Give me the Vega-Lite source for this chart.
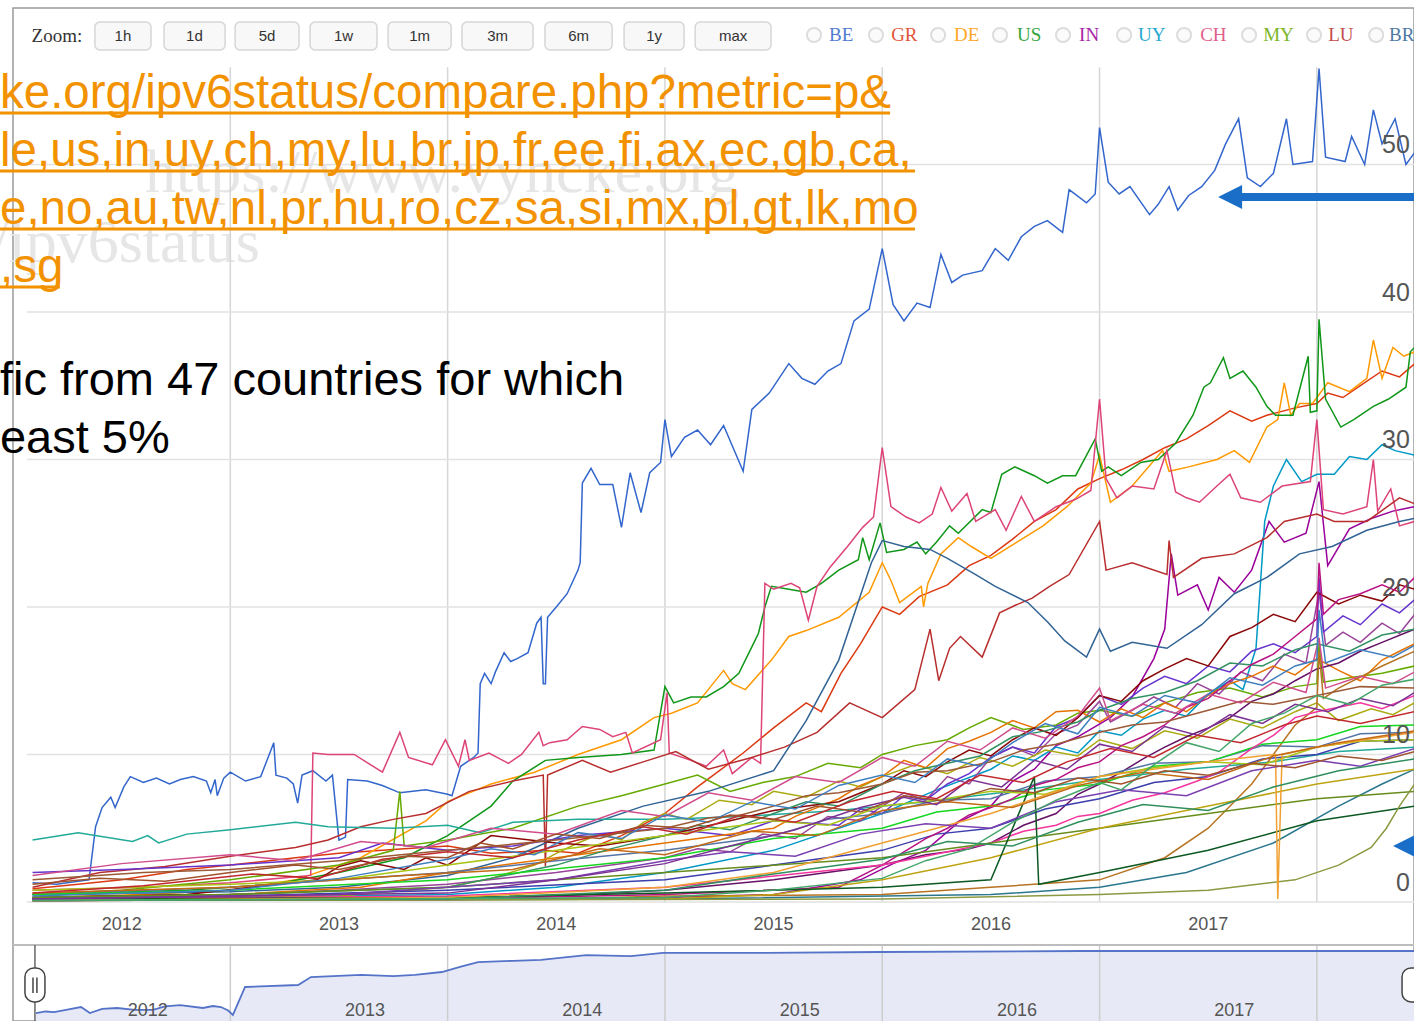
{
"$schema":"https://vega.github.io/schema/vega-lite/v6.json",
"width":1401,"height":1013,
"autosize":{"type":"none"},
"padding":{"left":13,"top":8,"right":0,"bottom":0},
"background":"#ffffff",
"config":{"view":{"stroke":"#9a9a9a","strokeWidth":1.5}},
"resolve":{"scale":{"y":"independent"}},
"layer":[
{"layer":[
 {"data":{"values":[{"s":"https://www.vyncke.org","t":2012.607,"v":48.14},{"s":"/ipv6status","t":2011.90,"v":43.39}]},
  "mark":{"type":"text","align":"left","baseline":"alphabetic","font":"Liberation Serif","fontSize":62,"color":"#e6e6e6"},
  "encoding":{"x":{"field":"t","type":"quantitative","scale":{"domain":[2012,2018.447],"nice":false,"zero":false},"axis":null},"y":{"field":"v","type":"quantitative","scale":{"domain":[-8.07,60.61],"nice":false,"zero":false},"axis":null},"text":{"field":"s"}}},
 {"data":{"values":[{"t":2013,"v":0,"v2":56.6},{"t":2014,"v":0,"v2":56.6},{"t":2015,"v":0,"v2":56.6},{"t":2016,"v":0,"v2":56.6},{"t":2017,"v":0,"v2":56.6},{"t":2018,"v":0,"v2":56.6}]},
  "mark":{"type":"rule","color":"#d6d6d6","strokeWidth":1.5},
  "encoding":{"x":{"field":"t","type":"quantitative","scale":{"domain":[2012,2018.447],"nice":false,"zero":false},"axis":null},"y":{"field":"v","type":"quantitative","scale":{"domain":[-8.07,60.61],"nice":false,"zero":false},"axis":null},"y2":{"field":"v2"}}},
 {"data":{"values":[{"t":2012.064,"t2":2018.5,"v":0},{"t":2012.064,"t2":2018.5,"v":10},{"t":2012.064,"t2":2018.5,"v":20},{"t":2012.064,"t2":2018.5,"v":30},{"t":2012.064,"t2":2018.5,"v":40},{"t":2012.064,"t2":2018.5,"v":50}]},
  "mark":{"type":"rule","color":"#e2e2e2","strokeWidth":1.5},
  "encoding":{"x":{"field":"t","type":"quantitative","scale":{"domain":[2012,2018.447],"nice":false,"zero":false},"axis":null},"x2":{"field":"t2"},"y":{"field":"v","type":"quantitative","scale":{"domain":[-8.07,60.61],"nice":false,"zero":false},"axis":null}}},
 {"data":{"values":[
{"c":"be","t":2012.09,"v":1.3},{"c":"be","t":2012.2,"v":1.2},{"c":"be","t":2012.3,"v":1.4},{"c":"be","t":2012.35,"v":1.5},{"c":"be","t":2012.38,"v":5.1},{"c":"be","t":2012.41,"v":6.4},{"c":"be","t":2012.45,"v":7.1},{"c":"be","t":2012.47,"v":6.4},{"c":"be","t":2012.51,"v":7.8},{"c":"be","t":2012.54,"v":8.5},{"c":"be","t":2012.6,"v":8.1},{"c":"be","t":2012.66,"v":8.4},{"c":"be","t":2012.72,"v":8.0},{"c":"be","t":2012.77,"v":8.3},{"c":"be","t":2012.83,"v":8.5},{"c":"be","t":2012.89,"v":8.2},{"c":"be","t":2012.91,"v":7.4},{"c":"be","t":2012.93,"v":8.3},{"c":"be","t":2012.94,"v":7.2},{"c":"be","t":2012.97,"v":8.4},{"c":"be","t":2013.0,"v":8.8},{"c":"be","t":2013.07,"v":8.2},{"c":"be","t":2013.14,"v":8.5},{"c":"be","t":2013.2,"v":10.8},{"c":"be","t":2013.21,"v":8.6},{"c":"be","t":2013.26,"v":8.4},{"c":"be","t":2013.29,"v":8.0},{"c":"be","t":2013.31,"v":6.7},{"c":"be","t":2013.33,"v":8.6},{"c":"be","t":2013.38,"v":8.9},{"c":"be","t":2013.44,"v":8.2},{"c":"be","t":2013.47,"v":8.6},{"c":"be","t":2013.5,"v":4.2},{"c":"be","t":2013.53,"v":4.4},{"c":"be","t":2013.54,"v":8.3},{"c":"be","t":2013.63,"v":8.2},{"c":"be","t":2013.7,"v":7.9},{"c":"be","t":2013.78,"v":7.4},{"c":"be","t":2013.9,"v":7.6},{"c":"be","t":2014.0,"v":7.3},{"c":"be","t":2014.02,"v":7.2},{"c":"be","t":2014.06,"v":9.2},{"c":"be","t":2014.12,"v":9.8},{"c":"be","t":2014.14,"v":10.1},{"c":"be","t":2014.15,"v":14.8},{"c":"be","t":2014.17,"v":15.5},{"c":"be","t":2014.2,"v":14.8},{"c":"be","t":2014.22,"v":15.6},{"c":"be","t":2014.26,"v":16.9},{"c":"be","t":2014.29,"v":16.3},{"c":"be","t":2014.32,"v":16.5},{"c":"be","t":2014.37,"v":16.9},{"c":"be","t":2014.41,"v":18.9},{"c":"be","t":2014.43,"v":19.3},{"c":"be","t":2014.44,"v":14.8},{"c":"be","t":2014.45,"v":14.8},{"c":"be","t":2014.46,"v":19.3},{"c":"be","t":2014.5,"v":20.0},{"c":"be","t":2014.55,"v":20.9},{"c":"be","t":2014.6,"v":22.5},{"c":"be","t":2014.61,"v":23.0},{"c":"be","t":2014.62,"v":28.4},{"c":"be","t":2014.66,"v":29.4},{"c":"be","t":2014.7,"v":28.3},{"c":"be","t":2014.76,"v":28.3},{"c":"be","t":2014.8,"v":25.4},{"c":"be","t":2014.84,"v":29.1},{"c":"be","t":2014.89,"v":26.4},{"c":"be","t":2014.93,"v":29.1},{"c":"be","t":2014.98,"v":29.8},{"c":"be","t":2015.0,"v":32.7},{"c":"be","t":2015.03,"v":30.2},{"c":"be","t":2015.09,"v":31.5},{"c":"be","t":2015.15,"v":32.0},{"c":"be","t":2015.21,"v":31.0},{"c":"be","t":2015.27,"v":32.3},{"c":"be","t":2015.36,"v":29.2},{"c":"be","t":2015.4,"v":33.4},{"c":"be","t":2015.48,"v":34.5},{"c":"be","t":2015.57,"v":36.5},{"c":"be","t":2015.63,"v":35.5},{"c":"be","t":2015.69,"v":35.1},{"c":"be","t":2015.75,"v":36.0},{"c":"be","t":2015.81,"v":36.5},{"c":"be","t":2015.87,"v":39.4},{"c":"be","t":2015.94,"v":40.2},{"c":"be","t":2016.0,"v":44.3},{"c":"be","t":2016.05,"v":40.5},{"c":"be","t":2016.1,"v":39.4},{"c":"be","t":2016.16,"v":40.6},{"c":"be","t":2016.22,"v":40.3},{"c":"be","t":2016.27,"v":43.9},{"c":"be","t":2016.32,"v":42.0},{"c":"be","t":2016.37,"v":42.5},{"c":"be","t":2016.46,"v":42.8},{"c":"be","t":2016.52,"v":44.3},{"c":"be","t":2016.58,"v":43.5},{"c":"be","t":2016.64,"v":45.1},{"c":"be","t":2016.7,"v":45.8},{"c":"be","t":2016.76,"v":46.2},{"c":"be","t":2016.83,"v":45.4},{"c":"be","t":2016.86,"v":48.3},{"c":"be","t":2016.94,"v":47.4},{"c":"be","t":2016.98,"v":48.0},{"c":"be","t":2017.0,"v":52.5},{"c":"be","t":2017.04,"v":48.8},{"c":"be","t":2017.09,"v":48.0},{"c":"be","t":2017.14,"v":48.5},{"c":"be","t":2017.23,"v":46.6},{"c":"be","t":2017.27,"v":47.3},{"c":"be","t":2017.32,"v":48.5},{"c":"be","t":2017.36,"v":46.9},{"c":"be","t":2017.41,"v":47.9},{"c":"be","t":2017.47,"v":48.5},{"c":"be","t":2017.53,"v":49.6},{"c":"be","t":2017.58,"v":51.4},{"c":"be","t":2017.64,"v":53.1},{"c":"be","t":2017.68,"v":49.1},{"c":"be","t":2017.74,"v":48.5},{"c":"be","t":2017.8,"v":49.4},{"c":"be","t":2017.86,"v":53.1},{"c":"be","t":2017.89,"v":50.0},{"c":"be","t":2017.98,"v":50.2},{"c":"be","t":2018.01,"v":56.5},{"c":"be","t":2018.04,"v":50.5},{"c":"be","t":2018.13,"v":50.2},{"c":"be","t":2018.16,"v":51.9},{"c":"be","t":2018.22,"v":50.0},{"c":"be","t":2018.26,"v":53.7},{"c":"be","t":2018.3,"v":51.4},{"c":"be","t":2018.36,"v":53.1},{"c":"be","t":2018.41,"v":50.0},{"c":"be","t":2018.45,"v":50.8},
{"c":"gr","t":2012.09,"v":0.9},{"c":"gr","t":2012.3,"v":1.2},{"c":"gr","t":2012.5,"v":1.5},{"c":"gr","t":2012.8,"v":2.2},{"c":"gr","t":2013.0,"v":2.5},{"c":"gr","t":2013.3,"v":3.0},{"c":"gr","t":2013.5,"v":3.3},{"c":"gr","t":2013.8,"v":3.6},{"c":"gr","t":2014.0,"v":3.8},{"c":"gr","t":2014.2,"v":3.3},{"c":"gr","t":2014.45,"v":3.5},{"c":"gr","t":2014.6,"v":3.3},{"c":"gr","t":2014.8,"v":4.5},{"c":"gr","t":2015.0,"v":6.0},{"c":"gr","t":2015.15,"v":7.8},{"c":"gr","t":2015.36,"v":10.1},{"c":"gr","t":2015.5,"v":11.8},{"c":"gr","t":2015.65,"v":13.5},{"c":"gr","t":2015.72,"v":12.9},{"c":"gr","t":2015.81,"v":15.5},{"c":"gr","t":2015.9,"v":17.5},{"c":"gr","t":2016.0,"v":20.0},{"c":"gr","t":2016.08,"v":19.5},{"c":"gr","t":2016.17,"v":20.7},{"c":"gr","t":2016.3,"v":21.5},{"c":"gr","t":2016.4,"v":22.8},{"c":"gr","t":2016.5,"v":23.5},{"c":"gr","t":2016.6,"v":24.6},{"c":"gr","t":2016.7,"v":25.8},{"c":"gr","t":2016.8,"v":26.6},{"c":"gr","t":2016.9,"v":28.0},{"c":"gr","t":2017.0,"v":28.7},{"c":"gr","t":2017.1,"v":29.3},{"c":"gr","t":2017.2,"v":30.0},{"c":"gr","t":2017.3,"v":30.8},{"c":"gr","t":2017.4,"v":31.4},{"c":"gr","t":2017.5,"v":32.3},{"c":"gr","t":2017.6,"v":33.3},{"c":"gr","t":2017.7,"v":32.6},{"c":"gr","t":2017.77,"v":33.0},{"c":"gr","t":2017.9,"v":33.5},{"c":"gr","t":2018.0,"v":33.8},{"c":"gr","t":2018.05,"v":34.5},{"c":"gr","t":2018.12,"v":34.2},{"c":"gr","t":2018.2,"v":35.0},{"c":"gr","t":2018.3,"v":36.0},{"c":"gr","t":2018.38,"v":35.6},{"c":"gr","t":2018.45,"v":36.5},
{"c":"de","t":2012.09,"v":0.3},{"c":"de","t":2012.6,"v":0.5},{"c":"de","t":2013.0,"v":0.8},{"c":"de","t":2013.3,"v":1.5},{"c":"de","t":2013.6,"v":3.0},{"c":"de","t":2013.9,"v":5.5},{"c":"de","t":2014.0,"v":6.8},{"c":"de","t":2014.2,"v":8.0},{"c":"de","t":2014.4,"v":8.8},{"c":"de","t":2014.6,"v":10.0},{"c":"de","t":2014.8,"v":11.0},{"c":"de","t":2014.95,"v":12.5},{"c":"de","t":2015.03,"v":12.8},{"c":"de","t":2015.15,"v":13.5},{"c":"de","t":2015.27,"v":15.7},{"c":"de","t":2015.31,"v":14.8},{"c":"de","t":2015.37,"v":14.4},{"c":"de","t":2015.49,"v":16.4},{"c":"de","t":2015.57,"v":18.0},{"c":"de","t":2015.65,"v":18.4},{"c":"de","t":2015.8,"v":19.3},{"c":"de","t":2015.94,"v":21.0},{"c":"de","t":2016.0,"v":23.0},{"c":"de","t":2016.04,"v":21.8},{"c":"de","t":2016.08,"v":20.3},{"c":"de","t":2016.18,"v":21.4},{"c":"de","t":2016.19,"v":20.0},{"c":"de","t":2016.21,"v":21.6},{"c":"de","t":2016.27,"v":23.6},{"c":"de","t":2016.35,"v":24.7},{"c":"de","t":2016.41,"v":24.1},{"c":"de","t":2016.5,"v":23.3},{"c":"de","t":2016.62,"v":24.4},{"c":"de","t":2016.74,"v":25.5},{"c":"de","t":2016.85,"v":26.8},{"c":"de","t":2016.96,"v":28.4},{"c":"de","t":2017.0,"v":30.3},{"c":"de","t":2017.05,"v":27.1},{"c":"de","t":2017.15,"v":28.2},{"c":"de","t":2017.29,"v":30.6},{"c":"de","t":2017.32,"v":29.2},{"c":"de","t":2017.41,"v":29.5},{"c":"de","t":2017.54,"v":30.0},{"c":"de","t":2017.62,"v":30.6},{"c":"de","t":2017.69,"v":29.8},{"c":"de","t":2017.77,"v":32.2},{"c":"de","t":2017.82,"v":32.7},{"c":"de","t":2017.85,"v":35.2},{"c":"de","t":2017.88,"v":33.0},{"c":"de","t":2017.92,"v":33.8},{"c":"de","t":2017.98,"v":33.8},{"c":"de","t":2018.05,"v":35.2},{"c":"de","t":2018.15,"v":34.6},{"c":"de","t":2018.23,"v":35.5},{"c":"de","t":2018.26,"v":38.1},{"c":"de","t":2018.3,"v":35.5},{"c":"de","t":2018.35,"v":37.6},{"c":"de","t":2018.4,"v":37.0},{"c":"de","t":2018.45,"v":37.3},
{"c":"us","t":2012.09,"v":0.5},{"c":"us","t":2012.8,"v":0.8},{"c":"us","t":2013.2,"v":1.2},{"c":"us","t":2013.5,"v":2.0},{"c":"us","t":2013.8,"v":3.0},{"c":"us","t":2014.0,"v":4.5},{"c":"us","t":2014.2,"v":6.5},{"c":"us","t":2014.3,"v":8.2},{"c":"us","t":2014.45,"v":9.6},{"c":"us","t":2014.6,"v":9.8},{"c":"us","t":2014.8,"v":10.0},{"c":"us","t":2014.95,"v":10.3},{"c":"us","t":2015.0,"v":14.6},{"c":"us","t":2015.04,"v":13.5},{"c":"us","t":2015.12,"v":13.9},{"c":"us","t":2015.19,"v":13.9},{"c":"us","t":2015.27,"v":14.6},{"c":"us","t":2015.34,"v":15.5},{"c":"us","t":2015.4,"v":17.3},{"c":"us","t":2015.43,"v":18.2},{"c":"us","t":2015.46,"v":20.0},{"c":"us","t":2015.49,"v":21.4},{"c":"us","t":2015.57,"v":21.2},{"c":"us","t":2015.65,"v":21.0},{"c":"us","t":2015.72,"v":21.6},{"c":"us","t":2015.8,"v":22.5},{"c":"us","t":2015.89,"v":23.2},{"c":"us","t":2015.91,"v":24.7},{"c":"us","t":2015.94,"v":23.2},{"c":"us","t":2015.99,"v":25.7},{"c":"us","t":2016.02,"v":23.7},{"c":"us","t":2016.1,"v":23.9},{"c":"us","t":2016.16,"v":24.4},{"c":"us","t":2016.2,"v":23.6},{"c":"us","t":2016.25,"v":24.4},{"c":"us","t":2016.31,"v":25.5},{"c":"us","t":2016.35,"v":25.0},{"c":"us","t":2016.46,"v":26.6},{"c":"us","t":2016.5,"v":26.4},{"c":"us","t":2016.55,"v":29.0},{"c":"us","t":2016.61,"v":29.5},{"c":"us","t":2016.7,"v":28.9},{"c":"us","t":2016.76,"v":28.4},{"c":"us","t":2016.83,"v":28.9},{"c":"us","t":2016.89,"v":28.9},{"c":"us","t":2016.98,"v":31.4},{"c":"us","t":2017.01,"v":29.2},{"c":"us","t":2017.04,"v":29.5},{"c":"us","t":2017.1,"v":28.9},{"c":"us","t":2017.19,"v":29.8},{"c":"us","t":2017.27,"v":30.0},{"c":"us","t":2017.35,"v":31.1},{"c":"us","t":2017.43,"v":33.0},{"c":"us","t":2017.48,"v":34.9},{"c":"us","t":2017.51,"v":35.2},{"c":"us","t":2017.57,"v":36.9},{"c":"us","t":2017.6,"v":35.5},{"c":"us","t":2017.66,"v":36.0},{"c":"us","t":2017.72,"v":34.9},{"c":"us","t":2017.77,"v":33.6},{"c":"us","t":2017.81,"v":33.0},{"c":"us","t":2017.89,"v":33.0},{"c":"us","t":2017.96,"v":37.0},{"c":"us","t":2017.97,"v":33.2},{"c":"us","t":2018.0,"v":33.3},{"c":"us","t":2018.01,"v":39.5},{"c":"us","t":2018.04,"v":34.1},{"c":"us","t":2018.11,"v":32.2},{"c":"us","t":2018.17,"v":32.7},{"c":"us","t":2018.26,"v":33.6},{"c":"us","t":2018.33,"v":34.1},{"c":"us","t":2018.41,"v":34.9},{"c":"us","t":2018.43,"v":37.3},{"c":"us","t":2018.45,"v":37.6},
{"c":"in","t":2012.09,"v":0.1},{"c":"in","t":2014.0,"v":0.15},{"c":"in","t":2015.0,"v":0.3},{"c":"in","t":2015.5,"v":0.5},{"c":"in","t":2015.9,"v":1.5},{"c":"in","t":2016.05,"v":2.6},{"c":"in","t":2016.2,"v":3.5},{"c":"in","t":2016.35,"v":5.4},{"c":"in","t":2016.5,"v":6.5},{"c":"in","t":2016.6,"v":8.2},{"c":"in","t":2016.7,"v":9.0},{"c":"in","t":2016.8,"v":10.6},{"c":"in","t":2016.9,"v":11.2},{"c":"in","t":2017.05,"v":12.5},{"c":"in","t":2017.15,"v":13.9},{"c":"in","t":2017.25,"v":16.5},{"c":"in","t":2017.3,"v":18.5},{"c":"in","t":2017.33,"v":23.6},{"c":"in","t":2017.36,"v":20.8},{"c":"in","t":2017.45,"v":21.5},{"c":"in","t":2017.5,"v":19.8},{"c":"in","t":2017.55,"v":22.0},{"c":"in","t":2017.62,"v":21.0},{"c":"in","t":2017.7,"v":22.5},{"c":"in","t":2017.78,"v":25.8},{"c":"in","t":2017.85,"v":24.4},{"c":"in","t":2017.95,"v":25.0},{"c":"in","t":2018.01,"v":28.5},{"c":"in","t":2018.05,"v":22.8},{"c":"in","t":2018.15,"v":25.3},{"c":"in","t":2018.25,"v":26.0},{"c":"in","t":2018.35,"v":26.5},{"c":"in","t":2018.45,"v":26.8},
{"c":"uy","t":2012.09,"v":0.2},{"c":"uy","t":2013.0,"v":0.3},{"c":"uy","t":2014.0,"v":0.5},{"c":"uy","t":2014.5,"v":1.0},{"c":"uy","t":2015.0,"v":2.0},{"c":"uy","t":2015.5,"v":3.5},{"c":"uy","t":2016.0,"v":6.0},{"c":"uy","t":2016.25,"v":7.6},{"c":"uy","t":2016.5,"v":9.0},{"c":"uy","t":2016.6,"v":9.9},{"c":"uy","t":2016.7,"v":9.6},{"c":"uy","t":2016.8,"v":10.5},{"c":"uy","t":2016.9,"v":10.1},{"c":"uy","t":2017.0,"v":11.6},{"c":"uy","t":2017.1,"v":11.3},{"c":"uy","t":2017.2,"v":12.4},{"c":"uy","t":2017.3,"v":13.0},{"c":"uy","t":2017.4,"v":12.6},{"c":"uy","t":2017.5,"v":14.1},{"c":"uy","t":2017.6,"v":15.0},{"c":"uy","t":2017.66,"v":14.4},{"c":"uy","t":2017.72,"v":17.2},{"c":"uy","t":2017.76,"v":25.8},{"c":"uy","t":2017.8,"v":28.2},{"c":"uy","t":2017.86,"v":30.0},{"c":"uy","t":2017.93,"v":28.5},{"c":"uy","t":2018.0,"v":29.0},{"c":"uy","t":2018.08,"v":29.0},{"c":"uy","t":2018.15,"v":30.2},{"c":"uy","t":2018.23,"v":30.0},{"c":"uy","t":2018.3,"v":31.0},{"c":"uy","t":2018.36,"v":30.6},{"c":"uy","t":2018.45,"v":30.3},
{"c":"ch","t":2012.09,"v":0.8},{"c":"ch","t":2012.6,"v":1.0},{"c":"ch","t":2013.0,"v":1.3},{"c":"ch","t":2013.37,"v":1.8},{"c":"ch","t":2013.38,"v":10.1},{"c":"ch","t":2013.45,"v":10.0},{"c":"ch","t":2013.57,"v":10.0},{"c":"ch","t":2013.7,"v":8.8},{"c":"ch","t":2013.78,"v":11.5},{"c":"ch","t":2013.82,"v":9.8},{"c":"ch","t":2013.93,"v":9.3},{"c":"ch","t":2013.99,"v":11.0},{"c":"ch","t":2014.05,"v":9.2},{"c":"ch","t":2014.08,"v":11.0},{"c":"ch","t":2014.1,"v":9.6},{"c":"ch","t":2014.19,"v":10.1},{"c":"ch","t":2014.28,"v":9.4},{"c":"ch","t":2014.34,"v":10.0},{"c":"ch","t":2014.42,"v":11.5},{"c":"ch","t":2014.44,"v":10.6},{"c":"ch","t":2014.47,"v":10.8},{"c":"ch","t":2014.55,"v":11.0},{"c":"ch","t":2014.62,"v":11.9},{"c":"ch","t":2014.7,"v":11.7},{"c":"ch","t":2014.76,"v":11.2},{"c":"ch","t":2014.82,"v":11.5},{"c":"ch","t":2014.85,"v":10.1},{"c":"ch","t":2014.98,"v":11.0},{"c":"ch","t":2015.01,"v":14.2},{"c":"ch","t":2015.02,"v":10.1},{"c":"ch","t":2015.12,"v":9.6},{"c":"ch","t":2015.19,"v":9.2},{"c":"ch","t":2015.27,"v":10.3},{"c":"ch","t":2015.31,"v":8.7},{"c":"ch","t":2015.4,"v":9.8},{"c":"ch","t":2015.44,"v":9.4},{"c":"ch","t":2015.46,"v":21.6},{"c":"ch","t":2015.5,"v":21.2},{"c":"ch","t":2015.58,"v":21.6},{"c":"ch","t":2015.62,"v":21.3},{"c":"ch","t":2015.66,"v":19.1},{"c":"ch","t":2015.7,"v":21.4},{"c":"ch","t":2015.76,"v":22.7},{"c":"ch","t":2015.84,"v":24.1},{"c":"ch","t":2015.91,"v":25.4},{"c":"ch","t":2015.96,"v":26.1},{"c":"ch","t":2016.0,"v":30.8},{"c":"ch","t":2016.04,"v":26.8},{"c":"ch","t":2016.11,"v":26.1},{"c":"ch","t":2016.17,"v":25.7},{"c":"ch","t":2016.23,"v":26.3},{"c":"ch","t":2016.27,"v":28.1},{"c":"ch","t":2016.32,"v":26.5},{"c":"ch","t":2016.39,"v":27.7},{"c":"ch","t":2016.43,"v":25.8},{"c":"ch","t":2016.52,"v":26.6},{"c":"ch","t":2016.57,"v":25.2},{"c":"ch","t":2016.64,"v":27.5},{"c":"ch","t":2016.7,"v":25.8},{"c":"ch","t":2016.8,"v":26.8},{"c":"ch","t":2016.89,"v":27.3},{"c":"ch","t":2016.96,"v":27.9},{"c":"ch","t":2017.0,"v":34.1},{"c":"ch","t":2017.03,"v":28.7},{"c":"ch","t":2017.08,"v":27.4},{"c":"ch","t":2017.15,"v":28.2},{"c":"ch","t":2017.25,"v":28.0},{"c":"ch","t":2017.31,"v":30.6},{"c":"ch","t":2017.35,"v":27.8},{"c":"ch","t":2017.4,"v":27.4},{"c":"ch","t":2017.46,"v":27.1},{"c":"ch","t":2017.54,"v":28.2},{"c":"ch","t":2017.6,"v":29.0},{"c":"ch","t":2017.65,"v":27.4},{"c":"ch","t":2017.74,"v":27.1},{"c":"ch","t":2017.84,"v":28.2},{"c":"ch","t":2017.97,"v":28.5},{"c":"ch","t":2018.0,"v":32.7},{"c":"ch","t":2018.03,"v":26.6},{"c":"ch","t":2018.12,"v":26.3},{"c":"ch","t":2018.23,"v":26.8},{"c":"ch","t":2018.26,"v":30.0},{"c":"ch","t":2018.28,"v":26.5},{"c":"ch","t":2018.34,"v":28.0},{"c":"ch","t":2018.38,"v":25.5},{"c":"ch","t":2018.45,"v":25.8},
{"c":"my","t":2012.09,"v":0.5},{"c":"my","t":2012.5,"v":0.8},{"c":"my","t":2013.0,"v":1.5},{"c":"my","t":2013.5,"v":2.5},{"c":"my","t":2013.75,"v":3.5},{"c":"my","t":2013.78,"v":7.5},{"c":"my","t":2013.8,"v":3.8},{"c":"my","t":2014.0,"v":4.2},{"c":"my","t":2014.3,"v":5.0},{"c":"my","t":2014.6,"v":6.5},{"c":"my","t":2014.8,"v":7.2},{"c":"my","t":2015.0,"v":8.0},{"c":"my","t":2015.15,"v":8.6},{"c":"my","t":2015.3,"v":7.5},{"c":"my","t":2015.45,"v":8.1},{"c":"my","t":2015.6,"v":8.5},{"c":"my","t":2015.75,"v":9.4},{"c":"my","t":2015.9,"v":9.1},{"c":"my","t":2016.0,"v":10.0},{"c":"my","t":2016.15,"v":10.6},{"c":"my","t":2016.3,"v":11.0},{"c":"my","t":2016.4,"v":11.8},{"c":"my","t":2016.5,"v":12.5},{"c":"my","t":2016.65,"v":11.7},{"c":"my","t":2016.8,"v":12.0},{"c":"my","t":2016.9,"v":12.8},{"c":"my","t":2017.0,"v":13.0},{"c":"my","t":2017.15,"v":12.6},{"c":"my","t":2017.3,"v":13.5},{"c":"my","t":2017.45,"v":14.2},{"c":"my","t":2017.6,"v":14.5},{"c":"my","t":2017.75,"v":13.9},{"c":"my","t":2017.9,"v":14.6},{"c":"my","t":2018.0,"v":14.8},{"c":"my","t":2018.01,"v":17.5},{"c":"my","t":2018.03,"v":14.9},{"c":"my","t":2018.15,"v":15.2},{"c":"my","t":2018.3,"v":15.5},{"c":"my","t":2018.45,"v":16.0},
{"c":"lu","t":2012.09,"v":1.0},{"c":"lu","t":2012.4,"v":2.0},{"c":"lu","t":2012.7,"v":2.4},{"c":"lu","t":2013.0,"v":3.1},{"c":"lu","t":2013.3,"v":3.7},{"c":"lu","t":2013.45,"v":4.2},{"c":"lu","t":2013.6,"v":5.1},{"c":"lu","t":2013.75,"v":5.6},{"c":"lu","t":2013.9,"v":6.0},{"c":"lu","t":2014.1,"v":7.5},{"c":"lu","t":2014.3,"v":8.2},{"c":"lu","t":2014.44,"v":8.6},{"c":"lu","t":2014.45,"v":2.4},{"c":"lu","t":2014.46,"v":8.6},{"c":"lu","t":2014.62,"v":9.6},{"c":"lu","t":2014.75,"v":8.8},{"c":"lu","t":2014.9,"v":9.5},{"c":"lu","t":2015.05,"v":10.2},{"c":"lu","t":2015.2,"v":9.0},{"c":"lu","t":2015.4,"v":9.8},{"c":"lu","t":2015.55,"v":10.5},{"c":"lu","t":2015.7,"v":11.5},{"c":"lu","t":2015.85,"v":13.5},{"c":"lu","t":2016.0,"v":12.5},{"c":"lu","t":2016.15,"v":14.4},{"c":"lu","t":2016.22,"v":18.5},{"c":"lu","t":2016.26,"v":15.0},{"c":"lu","t":2016.31,"v":17.2},{"c":"lu","t":2016.36,"v":18.0},{"c":"lu","t":2016.46,"v":16.6},{"c":"lu","t":2016.54,"v":19.6},{"c":"lu","t":2016.61,"v":20.1},{"c":"lu","t":2016.69,"v":20.6},{"c":"lu","t":2016.77,"v":21.4},{"c":"lu","t":2016.86,"v":22.2},{"c":"lu","t":2017.0,"v":25.8},{"c":"lu","t":2017.03,"v":22.5},{"c":"lu","t":2017.15,"v":23.0},{"c":"lu","t":2017.31,"v":22.2},{"c":"lu","t":2017.32,"v":24.5},{"c":"lu","t":2017.34,"v":22.0},{"c":"lu","t":2017.47,"v":23.3},{"c":"lu","t":2017.62,"v":23.6},{"c":"lu","t":2017.77,"v":24.7},{"c":"lu","t":2017.85,"v":25.8},{"c":"lu","t":2018.0,"v":26.3},{"c":"lu","t":2018.08,"v":25.8},{"c":"lu","t":2018.23,"v":25.8},{"c":"lu","t":2018.38,"v":27.4},{"c":"lu","t":2018.45,"v":27.0},
{"c":"br","t":2012.09,"v":0.5},{"c":"br","t":2013.0,"v":0.7},{"c":"br","t":2013.5,"v":1.0},{"c":"br","t":2014.0,"v":1.8},{"c":"br","t":2014.3,"v":3.0},{"c":"br","t":2014.6,"v":5.0},{"c":"br","t":2014.9,"v":6.5},{"c":"br","t":2015.2,"v":7.5},{"c":"br","t":2015.5,"v":8.9},{"c":"br","t":2015.65,"v":12.3},{"c":"br","t":2015.8,"v":16.4},{"c":"br","t":2015.95,"v":23.0},{"c":"br","t":2016.0,"v":24.5},{"c":"br","t":2016.1,"v":24.1},{"c":"br","t":2016.22,"v":23.9},{"c":"br","t":2016.3,"v":23.3},{"c":"br","t":2016.43,"v":22.2},{"c":"br","t":2016.52,"v":21.4},{"c":"br","t":2016.67,"v":20.3},{"c":"br","t":2016.76,"v":19.0},{"c":"br","t":2016.84,"v":17.7},{"c":"br","t":2016.94,"v":16.6},{"c":"br","t":2017.0,"v":18.5},{"c":"br","t":2017.05,"v":17.0},{"c":"br","t":2017.15,"v":17.6},{"c":"br","t":2017.31,"v":17.2},{"c":"br","t":2017.47,"v":18.8},{"c":"br","t":2017.62,"v":20.9},{"c":"br","t":2017.77,"v":22.0},{"c":"br","t":2017.92,"v":23.6},{"c":"br","t":2018.07,"v":24.1},{"c":"br","t":2018.23,"v":25.2},{"c":"br","t":2018.38,"v":25.8},{"c":"br","t":2018.45,"v":26.0},
{"c":"jp","t":2012.09,"v":0.3},{"c":"jp","t":2013.0,"v":0.5},{"c":"jp","t":2013.5,"v":0.8},{"c":"jp","t":2014.0,"v":1.2},{"c":"jp","t":2014.5,"v":2.0},{"c":"jp","t":2015.0,"v":3.0},{"c":"jp","t":2015.15,"v":3.6},{"c":"jp","t":2015.3,"v":3.4},{"c":"jp","t":2015.45,"v":4.6},{"c":"jp","t":2015.6,"v":4.3},{"c":"jp","t":2015.75,"v":5.8},{"c":"jp","t":2015.9,"v":5.5},{"c":"jp","t":2016.0,"v":6.5},{"c":"jp","t":2016.1,"v":7.4},{"c":"jp","t":2016.2,"v":6.9},{"c":"jp","t":2016.3,"v":8.5},{"c":"jp","t":2016.4,"v":8.0},{"c":"jp","t":2016.5,"v":9.8},{"c":"jp","t":2016.6,"v":10.5},{"c":"jp","t":2016.7,"v":9.9},{"c":"jp","t":2016.8,"v":11.4},{"c":"jp","t":2016.9,"v":12.0},{"c":"jp","t":2017.0,"v":13.6},{"c":"jp","t":2017.05,"v":12.2},{"c":"jp","t":2017.15,"v":13.0},{"c":"jp","t":2017.25,"v":13.9},{"c":"jp","t":2017.35,"v":13.2},{"c":"jp","t":2017.45,"v":14.8},{"c":"jp","t":2017.55,"v":14.1},{"c":"jp","t":2017.65,"v":15.6},{"c":"jp","t":2017.75,"v":15.0},{"c":"jp","t":2017.85,"v":16.8},{"c":"jp","t":2017.95,"v":16.2},{"c":"jp","t":2018.01,"v":21.0},{"c":"jp","t":2018.04,"v":17.4},{"c":"jp","t":2018.12,"v":18.3},{"c":"jp","t":2018.2,"v":17.6},{"c":"jp","t":2018.3,"v":18.9},{"c":"jp","t":2018.38,"v":18.2},{"c":"jp","t":2018.45,"v":19.5},
{"c":"fr","t":2012.09,"v":4.2},{"c":"fr","t":2012.3,"v":4.7},{"c":"fr","t":2012.55,"v":4.1},{"c":"fr","t":2012.62,"v":4.5},{"c":"fr","t":2012.67,"v":4.0},{"c":"fr","t":2012.8,"v":4.6},{"c":"fr","t":2013.0,"v":4.9},{"c":"fr","t":2013.3,"v":5.4},{"c":"fr","t":2013.45,"v":5.1},{"c":"fr","t":2013.75,"v":5.0},{"c":"fr","t":2014.0,"v":5.2},{"c":"fr","t":2014.15,"v":4.7},{"c":"fr","t":2014.3,"v":5.4},{"c":"fr","t":2014.6,"v":5.6},{"c":"fr","t":2015.0,"v":5.6},{"c":"fr","t":2015.35,"v":5.8},{"c":"fr","t":2015.8,"v":6.2},{"c":"fr","t":2016.2,"v":6.8},{"c":"fr","t":2016.6,"v":7.5},{"c":"fr","t":2017.0,"v":8.3},{"c":"fr","t":2017.4,"v":9.0},{"c":"fr","t":2017.8,"v":9.5},{"c":"fr","t":2018.1,"v":10.2},{"c":"fr","t":2018.45,"v":10.5},
{"c":"ee","t":2012.09,"v":0.2},{"c":"ee","t":2013.0,"v":0.3},{"c":"ee","t":2013.5,"v":0.4},{"c":"ee","t":2014.0,"v":1.0},{"c":"ee","t":2014.2,"v":1.6},{"c":"ee","t":2014.4,"v":2.5},{"c":"ee","t":2014.5,"v":3.3},{"c":"ee","t":2014.6,"v":4.0},{"c":"ee","t":2014.7,"v":4.6},{"c":"ee","t":2014.8,"v":4.2},{"c":"ee","t":2014.9,"v":5.4},{"c":"ee","t":2015.0,"v":6.0},{"c":"ee","t":2015.1,"v":5.6},{"c":"ee","t":2015.25,"v":6.9},{"c":"ee","t":2015.4,"v":6.6},{"c":"ee","t":2015.5,"v":7.5},{"c":"ee","t":2015.65,"v":7.1},{"c":"ee","t":2015.8,"v":8.2},{"c":"ee","t":2015.9,"v":7.8},{"c":"ee","t":2016.0,"v":8.5},{"c":"ee","t":2016.15,"v":9.3},{"c":"ee","t":2016.3,"v":8.7},{"c":"ee","t":2016.45,"v":9.8},{"c":"ee","t":2016.6,"v":9.2},{"c":"ee","t":2016.75,"v":10.3},{"c":"ee","t":2016.9,"v":9.9},{"c":"ee","t":2017.0,"v":11.0},{"c":"ee","t":2017.15,"v":10.4},{"c":"ee","t":2017.3,"v":11.6},{"c":"ee","t":2017.45,"v":11.1},{"c":"ee","t":2017.6,"v":12.4},{"c":"ee","t":2017.75,"v":11.8},{"c":"ee","t":2017.9,"v":12.9},{"c":"ee","t":2018.0,"v":13.5},{"c":"ee","t":2018.1,"v":12.3},{"c":"ee","t":2018.25,"v":13.1},{"c":"ee","t":2018.35,"v":12.7},{"c":"ee","t":2018.45,"v":13.5},
{"c":"fi","t":2012.09,"v":2.0},{"c":"fi","t":2012.5,"v":2.2},{"c":"fi","t":2013.0,"v":2.5},{"c":"fi","t":2013.5,"v":3.0},{"c":"fi","t":2013.7,"v":4.0},{"c":"fi","t":2014.0,"v":3.5},{"c":"fi","t":2014.3,"v":3.8},{"c":"fi","t":2014.6,"v":4.5},{"c":"fi","t":2015.0,"v":5.0},{"c":"fi","t":2015.3,"v":4.5},{"c":"fi","t":2015.5,"v":5.5},{"c":"fi","t":2015.8,"v":5.2},{"c":"fi","t":2015.9,"v":6.3},{"c":"fi","t":2016.0,"v":6.0},{"c":"fi","t":2016.1,"v":7.2},{"c":"fi","t":2016.2,"v":6.9},{"c":"fi","t":2016.3,"v":8.0},{"c":"fi","t":2016.4,"v":8.7},{"c":"fi","t":2016.5,"v":9.8},{"c":"fi","t":2016.6,"v":10.5},{"c":"fi","t":2016.7,"v":10.1},{"c":"fi","t":2016.8,"v":11.9},{"c":"fi","t":2016.9,"v":12.5},{"c":"fi","t":2017.0,"v":14.0},{"c":"fi","t":2017.1,"v":13.4},{"c":"fi","t":2017.2,"v":14.5},{"c":"fi","t":2017.3,"v":15.3},{"c":"fi","t":2017.4,"v":14.8},{"c":"fi","t":2017.5,"v":16.0},{"c":"fi","t":2017.6,"v":15.6},{"c":"fi","t":2017.7,"v":17.0},{"c":"fi","t":2017.8,"v":17.5},{"c":"fi","t":2017.9,"v":16.9},{"c":"fi","t":2018.0,"v":18.0},{"c":"fi","t":2018.01,"v":22.0},{"c":"fi","t":2018.03,"v":18.3},{"c":"fi","t":2018.12,"v":19.4},{"c":"fi","t":2018.2,"v":18.8},{"c":"fi","t":2018.3,"v":20.2},{"c":"fi","t":2018.38,"v":19.6},{"c":"fi","t":2018.45,"v":20.5},
{"c":"ax","t":2012.09,"v":0.3},{"c":"ax","t":2013.0,"v":0.5},{"c":"ax","t":2013.6,"v":1.0},{"c":"ax","t":2014.0,"v":2.0},{"c":"ax","t":2014.5,"v":3.0},{"c":"ax","t":2015.0,"v":4.0},{"c":"ax","t":2015.5,"v":5.0},{"c":"ax","t":2015.6,"v":5.8},{"c":"ax","t":2015.7,"v":6.4},{"c":"ax","t":2015.8,"v":7.0},{"c":"ax","t":2015.9,"v":7.9},{"c":"ax","t":2016.0,"v":8.5},{"c":"ax","t":2016.1,"v":9.6},{"c":"ax","t":2016.2,"v":9.1},{"c":"ax","t":2016.3,"v":10.4},{"c":"ax","t":2016.4,"v":10.9},{"c":"ax","t":2016.5,"v":11.5},{"c":"ax","t":2016.6,"v":12.3},{"c":"ax","t":2016.7,"v":11.8},{"c":"ax","t":2016.8,"v":12.9},{"c":"ax","t":2016.9,"v":13.0},{"c":"ax","t":2017.0,"v":12.2},{"c":"ax","t":2017.1,"v":13.1},{"c":"ax","t":2017.2,"v":12.5},{"c":"ax","t":2017.3,"v":13.5},{"c":"ax","t":2017.4,"v":12.9},{"c":"ax","t":2017.5,"v":14.0},{"c":"ax","t":2017.6,"v":14.8},{"c":"ax","t":2017.7,"v":15.3},{"c":"ax","t":2017.8,"v":16.0},{"c":"ax","t":2017.9,"v":15.4},{"c":"ax","t":2018.0,"v":16.5},{"c":"ax","t":2018.1,"v":15.7},{"c":"ax","t":2018.2,"v":15.0},{"c":"ax","t":2018.3,"v":16.4},{"c":"ax","t":2018.38,"v":17.0},{"c":"ax","t":2018.45,"v":17.5},
{"c":"ec","t":2012.09,"v":0.3},{"c":"ec","t":2012.8,"v":0.5},{"c":"ec","t":2013.4,"v":1.5},{"c":"ec","t":2013.5,"v":2.4},{"c":"ec","t":2013.6,"v":2.8},{"c":"ec","t":2013.8,"v":2.2},{"c":"ec","t":2013.9,"v":3.0},{"c":"ec","t":2014.0,"v":2.5},{"c":"ec","t":2014.2,"v":4.5},{"c":"ec","t":2014.5,"v":4.0},{"c":"ec","t":2014.7,"v":3.8},{"c":"ec","t":2015.0,"v":4.5},{"c":"ec","t":2015.3,"v":5.5},{"c":"ec","t":2015.5,"v":6.2},{"c":"ec","t":2015.8,"v":6.8},{"c":"ec","t":2016.0,"v":8.0},{"c":"ec","t":2016.1,"v":8.9},{"c":"ec","t":2016.2,"v":8.5},{"c":"ec","t":2016.3,"v":9.5},{"c":"ec","t":2016.4,"v":10.3},{"c":"ec","t":2016.5,"v":9.9},{"c":"ec","t":2016.6,"v":11.0},{"c":"ec","t":2016.7,"v":11.8},{"c":"ec","t":2016.8,"v":11.3},{"c":"ec","t":2016.9,"v":12.5},{"c":"ec","t":2017.0,"v":14.0},{"c":"ec","t":2017.1,"v":13.6},{"c":"ec","t":2017.2,"v":15.0},{"c":"ec","t":2017.3,"v":15.8},{"c":"ec","t":2017.4,"v":16.5},{"c":"ec","t":2017.5,"v":16.0},{"c":"ec","t":2017.6,"v":18.0},{"c":"ec","t":2017.7,"v":18.6},{"c":"ec","t":2017.8,"v":19.5},{"c":"ec","t":2017.9,"v":19.0},{"c":"ec","t":2018.0,"v":21.0},{"c":"ec","t":2018.1,"v":20.2},{"c":"ec","t":2018.2,"v":20.8},{"c":"ec","t":2018.3,"v":20.4},{"c":"ec","t":2018.38,"v":21.5},{"c":"ec","t":2018.45,"v":21.2},
{"c":"gb","t":2012.09,"v":0.1},{"c":"gb","t":2013.5,"v":0.2},{"c":"gb","t":2014.5,"v":0.4},{"c":"gb","t":2015.0,"v":0.8},{"c":"gb","t":2015.5,"v":1.5},{"c":"gb","t":2016.0,"v":2.5},{"c":"gb","t":2016.2,"v":3.2},{"c":"gb","t":2016.4,"v":3.6},{"c":"gb","t":2016.5,"v":4.0},{"c":"gb","t":2016.65,"v":5.2},{"c":"gb","t":2016.8,"v":6.0},{"c":"gb","t":2016.9,"v":7.3},{"c":"gb","t":2017.0,"v":8.0},{"c":"gb","t":2017.1,"v":8.8},{"c":"gb","t":2017.2,"v":9.7},{"c":"gb","t":2017.3,"v":10.5},{"c":"gb","t":2017.4,"v":11.2},{"c":"gb","t":2017.5,"v":11.8},{"c":"gb","t":2017.6,"v":12.5},{"c":"gb","t":2017.7,"v":13.6},{"c":"gb","t":2017.8,"v":14.1},{"c":"gb","t":2017.9,"v":15.0},{"c":"gb","t":2018.0,"v":15.8},{"c":"gb","t":2018.1,"v":16.2},{"c":"gb","t":2018.2,"v":17.0},{"c":"gb","t":2018.3,"v":17.6},{"c":"gb","t":2018.45,"v":18.5},
{"c":"ca","t":2012.09,"v":0.3},{"c":"ca","t":2013.0,"v":0.5},{"c":"ca","t":2014.0,"v":1.0},{"c":"ca","t":2014.5,"v":2.5},{"c":"ca","t":2014.75,"v":3.6},{"c":"ca","t":2015.0,"v":4.5},{"c":"ca","t":2015.15,"v":5.2},{"c":"ca","t":2015.3,"v":4.9},{"c":"ca","t":2015.5,"v":6.0},{"c":"ca","t":2015.65,"v":6.8},{"c":"ca","t":2015.8,"v":6.5},{"c":"ca","t":2016.0,"v":8.0},{"c":"ca","t":2016.15,"v":8.9},{"c":"ca","t":2016.3,"v":9.4},{"c":"ca","t":2016.45,"v":9.9},{"c":"ca","t":2016.6,"v":11.2},{"c":"ca","t":2016.75,"v":11.6},{"c":"ca","t":2016.9,"v":12.2},{"c":"ca","t":2017.0,"v":13.0},{"c":"ca","t":2017.15,"v":13.8},{"c":"ca","t":2017.3,"v":14.2},{"c":"ca","t":2017.45,"v":15.0},{"c":"ca","t":2017.6,"v":16.2},{"c":"ca","t":2017.75,"v":16.0},{"c":"ca","t":2017.9,"v":17.1},{"c":"ca","t":2018.0,"v":17.5},{"c":"ca","t":2018.15,"v":17.0},{"c":"ca","t":2018.3,"v":18.1},{"c":"ca","t":2018.45,"v":18.5},
{"c":"no","t":2012.09,"v":0.5},{"c":"no","t":2013.0,"v":1.0},{"c":"no","t":2014.0,"v":2.0},{"c":"no","t":2014.5,"v":2.8},{"c":"no","t":2015.0,"v":3.5},{"c":"no","t":2015.5,"v":4.5},{"c":"no","t":2015.75,"v":5.6},{"c":"no","t":2016.0,"v":6.0},{"c":"no","t":2016.25,"v":6.9},{"c":"no","t":2016.5,"v":7.0},{"c":"no","t":2016.75,"v":8.2},{"c":"no","t":2017.0,"v":8.5},{"c":"no","t":2017.25,"v":9.4},{"c":"no","t":2017.5,"v":9.5},{"c":"no","t":2017.75,"v":10.6},{"c":"no","t":2018.0,"v":10.5},{"c":"no","t":2018.2,"v":11.4},{"c":"no","t":2018.45,"v":11.5},
{"c":"au","t":2012.09,"v":0.2},{"c":"au","t":2013.0,"v":0.4},{"c":"au","t":2014.0,"v":0.8},{"c":"au","t":2015.0,"v":1.5},{"c":"au","t":2015.5,"v":2.5},{"c":"au","t":2016.0,"v":3.5},{"c":"au","t":2016.25,"v":4.6},{"c":"au","t":2016.5,"v":5.0},{"c":"au","t":2016.75,"v":6.3},{"c":"au","t":2017.0,"v":7.0},{"c":"au","t":2017.25,"v":8.1},{"c":"au","t":2017.5,"v":8.5},{"c":"au","t":2017.75,"v":9.7},{"c":"au","t":2018.0,"v":10.0},{"c":"au","t":2018.2,"v":10.9},{"c":"au","t":2018.45,"v":11.0},
{"c":"tw","t":2012.09,"v":0.1},{"c":"tw","t":2014.5,"v":0.2},{"c":"tw","t":2015.0,"v":0.4},{"c":"tw","t":2016.0,"v":0.5},{"c":"tw","t":2016.5,"v":1.0},{"c":"tw","t":2017.0,"v":1.5},{"c":"tw","t":2017.3,"v":3.0},{"c":"tw","t":2017.5,"v":5.0},{"c":"tw","t":2017.7,"v":8.0},{"c":"tw","t":2017.9,"v":12.0},{"c":"tw","t":2018.0,"v":13.2},{"c":"tw","t":2018.01,"v":17.0},{"c":"tw","t":2018.03,"v":13.8},{"c":"tw","t":2018.1,"v":14.5},{"c":"tw","t":2018.3,"v":16.0},{"c":"tw","t":2018.45,"v":17.0},
{"c":"nl","t":2012.09,"v":0.5},{"c":"nl","t":2013.0,"v":0.8},{"c":"nl","t":2014.0,"v":1.5},{"c":"nl","t":2015.0,"v":3.0},{"c":"nl","t":2015.5,"v":4.3},{"c":"nl","t":2016.0,"v":5.0},{"c":"nl","t":2016.25,"v":6.1},{"c":"nl","t":2016.5,"v":6.5},{"c":"nl","t":2016.75,"v":7.6},{"c":"nl","t":2017.0,"v":8.0},{"c":"nl","t":2017.25,"v":9.2},{"c":"nl","t":2017.5,"v":9.5},{"c":"nl","t":2017.75,"v":10.7},{"c":"nl","t":2018.0,"v":11.0},{"c":"nl","t":2018.2,"v":11.9},{"c":"nl","t":2018.45,"v":12.0},
{"c":"pr","t":2012.09,"v":0.1},{"c":"pr","t":2014.0,"v":0.2},{"c":"pr","t":2015.0,"v":0.5},{"c":"pr","t":2015.8,"v":1.0},{"c":"pr","t":2016.0,"v":2.5},{"c":"pr","t":2016.1,"v":3.4},{"c":"pr","t":2016.2,"v":4.3},{"c":"pr","t":2016.3,"v":5.0},{"c":"pr","t":2016.4,"v":5.9},{"c":"pr","t":2016.5,"v":6.4},{"c":"pr","t":2016.6,"v":7.0},{"c":"pr","t":2016.7,"v":7.9},{"c":"pr","t":2016.8,"v":8.3},{"c":"pr","t":2016.9,"v":9.1},{"c":"pr","t":2017.0,"v":9.5},{"c":"pr","t":2017.1,"v":10.6},{"c":"pr","t":2017.2,"v":11.2},{"c":"pr","t":2017.3,"v":12.0},{"c":"pr","t":2017.4,"v":13.2},{"c":"pr","t":2017.5,"v":13.8},{"c":"pr","t":2017.6,"v":15.0},{"c":"pr","t":2017.7,"v":16.1},{"c":"pr","t":2017.8,"v":16.8},{"c":"pr","t":2017.9,"v":18.0},{"c":"pr","t":2018.0,"v":19.2},{"c":"pr","t":2018.01,"v":23.0},{"c":"pr","t":2018.03,"v":19.5},{"c":"pr","t":2018.1,"v":20.5},{"c":"pr","t":2018.2,"v":20.9},{"c":"pr","t":2018.3,"v":21.5},{"c":"pr","t":2018.38,"v":21.0},{"c":"pr","t":2018.45,"v":22.0},
{"c":"hu","t":2012.09,"v":0.2},{"c":"hu","t":2014.0,"v":0.4},{"c":"hu","t":2015.0,"v":1.0},{"c":"hu","t":2016.0,"v":2.5},{"c":"hu","t":2016.5,"v":4.0},{"c":"hu","t":2016.65,"v":4.8},{"c":"hu","t":2016.8,"v":5.2},{"c":"hu","t":2016.9,"v":5.8},{"c":"hu","t":2017.0,"v":6.0},{"c":"hu","t":2017.15,"v":6.9},{"c":"hu","t":2017.3,"v":7.4},{"c":"hu","t":2017.45,"v":8.2},{"c":"hu","t":2017.55,"v":8.8},{"c":"hu","t":2017.7,"v":10.4},{"c":"hu","t":2017.8,"v":11.3},{"c":"hu","t":2017.9,"v":12.5},{"c":"hu","t":2018.0,"v":12.9},{"c":"hu","t":2018.1,"v":13.2},{"c":"hu","t":2018.2,"v":13.5},{"c":"hu","t":2018.3,"v":13.1},{"c":"hu","t":2018.45,"v":14.0},
{"c":"ro","t":2012.09,"v":1.5},{"c":"ro","t":2012.6,"v":2.0},{"c":"ro","t":2013.0,"v":2.2},{"c":"ro","t":2013.5,"v":2.8},{"c":"ro","t":2014.0,"v":3.5},{"c":"ro","t":2014.5,"v":4.2},{"c":"ro","t":2015.0,"v":5.0},{"c":"ro","t":2015.2,"v":5.7},{"c":"ro","t":2015.35,"v":5.9},{"c":"ro","t":2015.5,"v":6.5},{"c":"ro","t":2015.65,"v":7.2},{"c":"ro","t":2015.8,"v":7.4},{"c":"ro","t":2016.0,"v":8.0},{"c":"ro","t":2016.15,"v":8.8},{"c":"ro","t":2016.3,"v":8.9},{"c":"ro","t":2016.5,"v":9.5},{"c":"ro","t":2016.65,"v":10.3},{"c":"ro","t":2016.8,"v":10.7},{"c":"ro","t":2017.0,"v":11.5},{"c":"ro","t":2017.15,"v":12.0},{"c":"ro","t":2017.3,"v":12.2},{"c":"ro","t":2017.5,"v":13.0},{"c":"ro","t":2017.65,"v":13.6},{"c":"ro","t":2017.8,"v":13.4},{"c":"ro","t":2018.0,"v":14.0},{"c":"ro","t":2018.2,"v":14.6},{"c":"ro","t":2018.45,"v":14.5},
{"c":"cz","t":2012.09,"v":0.8},{"c":"cz","t":2013.0,"v":1.2},{"c":"cz","t":2013.5,"v":1.5},{"c":"cz","t":2014.0,"v":2.5},{"c":"cz","t":2014.5,"v":3.5},{"c":"cz","t":2015.0,"v":4.5},{"c":"cz","t":2015.5,"v":5.5},{"c":"cz","t":2015.75,"v":5.2},{"c":"cz","t":2016.0,"v":6.5},{"c":"cz","t":2016.25,"v":6.9},{"c":"cz","t":2016.5,"v":7.5},{"c":"cz","t":2016.75,"v":7.3},{"c":"cz","t":2017.0,"v":8.5},{"c":"cz","t":2017.25,"v":9.1},{"c":"cz","t":2017.5,"v":9.5},{"c":"cz","t":2017.75,"v":9.3},{"c":"cz","t":2018.0,"v":10.5},{"c":"cz","t":2018.2,"v":10.9},{"c":"cz","t":2018.45,"v":11.0},
{"c":"sa","t":2012.09,"v":0.1},{"c":"sa","t":2015.0,"v":0.2},{"c":"sa","t":2016.5,"v":0.5},{"c":"sa","t":2017.0,"v":1.0},{"c":"sa","t":2017.4,"v":2.0},{"c":"sa","t":2017.8,"v":4.0},{"c":"sa","t":2018.1,"v":6.5},{"c":"sa","t":2018.3,"v":8.0},{"c":"sa","t":2018.45,"v":9.0},
{"c":"si","t":2012.09,"v":0.3},{"c":"si","t":2013.0,"v":0.5},{"c":"si","t":2014.0,"v":1.0},{"c":"si","t":2015.0,"v":2.0},{"c":"si","t":2016.0,"v":3.0},{"c":"si","t":2016.5,"v":4.0},{"c":"si","t":2017.0,"v":5.0},{"c":"si","t":2017.5,"v":6.0},{"c":"si","t":2018.0,"v":7.0},{"c":"si","t":2018.45,"v":7.5},
{"c":"mx","t":2012.09,"v":0.1},{"c":"mx","t":2015.0,"v":0.2},{"c":"mx","t":2015.5,"v":0.5},{"c":"mx","t":2016.0,"v":1.5},{"c":"mx","t":2016.5,"v":3.0},{"c":"mx","t":2017.0,"v":5.0},{"c":"mx","t":2017.5,"v":6.5},{"c":"mx","t":2018.0,"v":8.0},{"c":"mx","t":2018.45,"v":9.0},
{"c":"pl","t":2012.09,"v":0.2},{"c":"pl","t":2014.0,"v":0.3},{"c":"pl","t":2015.0,"v":0.6},{"c":"pl","t":2016.0,"v":1.0},{"c":"pl","t":2016.5,"v":1.5},{"c":"pl","t":2016.7,"v":8.5},{"c":"pl","t":2016.72,"v":1.2},{"c":"pl","t":2017.0,"v":2.0},{"c":"pl","t":2017.5,"v":3.5},{"c":"pl","t":2018.0,"v":5.5},{"c":"pl","t":2018.45,"v":6.5},
{"c":"gt","t":2012.09,"v":0.1},{"c":"gt","t":2016.0,"v":0.2},{"c":"gt","t":2017.0,"v":0.5},{"c":"gt","t":2017.5,"v":0.8},{"c":"gt","t":2017.9,"v":1.5},{"c":"gt","t":2018.1,"v":2.5},{"c":"gt","t":2018.25,"v":3.7},{"c":"gt","t":2018.32,"v":5.0},{"c":"gt","t":2018.38,"v":6.5},{"c":"gt","t":2018.45,"v":8.0},
{"c":"lk","t":2012.09,"v":0.1},{"c":"lk","t":2014.0,"v":0.3},{"c":"lk","t":2015.0,"v":1.0},{"c":"lk","t":2015.5,"v":2.0},{"c":"lk","t":2016.0,"v":4.0},{"c":"lk","t":2016.5,"v":6.0},{"c":"lk","t":2017.0,"v":8.5},{"c":"lk","t":2017.5,"v":9.5},{"c":"lk","t":2017.81,"v":10.0},{"c":"lk","t":2017.82,"v":0.2},{"c":"lk","t":2017.84,"v":10.0},{"c":"lk","t":2018.0,"v":10.5},{"c":"lk","t":2018.45,"v":11.5},
{"c":"mo","t":2012.09,"v":0.2},{"c":"mo","t":2013.5,"v":0.5},{"c":"mo","t":2014.5,"v":1.5},{"c":"mo","t":2015.0,"v":2.8},{"c":"mo","t":2015.3,"v":3.4},{"c":"mo","t":2015.6,"v":3.1},{"c":"mo","t":2015.9,"v":4.6},{"c":"mo","t":2016.2,"v":5.3},{"c":"mo","t":2016.5,"v":5.0},{"c":"mo","t":2016.8,"v":6.8},{"c":"mo","t":2017.1,"v":7.6},{"c":"mo","t":2017.4,"v":7.2},{"c":"mo","t":2017.7,"v":8.9},{"c":"mo","t":2018.0,"v":9.6},{"c":"mo","t":2018.2,"v":9.2},{"c":"mo","t":2018.45,"v":10.4},
{"c":"sg","t":2012.09,"v":0.6},{"c":"sg","t":2013.0,"v":1.0},{"c":"sg","t":2013.8,"v":1.8},{"c":"sg","t":2014.3,"v":2.2},{"c":"sg","t":2014.7,"v":3.6},{"c":"sg","t":2015.0,"v":3.2},{"c":"sg","t":2015.4,"v":4.8},{"c":"sg","t":2015.7,"v":4.5},{"c":"sg","t":2016.0,"v":6.2},{"c":"sg","t":2016.3,"v":6.8},{"c":"sg","t":2016.6,"v":6.4},{"c":"sg","t":2016.9,"v":7.9},{"c":"sg","t":2017.2,"v":8.8},{"c":"sg","t":2017.5,"v":8.3},{"c":"sg","t":2017.8,"v":9.9},{"c":"sg","t":2018.1,"v":10.8},{"c":"sg","t":2018.45,"v":11.6},
{"c":"ie","t":2012.09,"v":0.1},{"c":"ie","t":2014.0,"v":0.2},{"c":"ie","t":2015.0,"v":0.8},{"c":"ie","t":2015.5,"v":1.9},{"c":"ie","t":2016.0,"v":2.9},{"c":"ie","t":2016.3,"v":4.1},{"c":"ie","t":2016.6,"v":3.8},{"c":"ie","t":2016.9,"v":5.4},{"c":"ie","t":2017.2,"v":6.6},{"c":"ie","t":2017.5,"v":6.2},{"c":"ie","t":2017.8,"v":7.8},{"c":"ie","t":2018.1,"v":8.9},{"c":"ie","t":2018.45,"v":9.7},
{"c":"se","t":2012.09,"v":1.8},{"c":"se","t":2012.5,"v":2.6},{"c":"se","t":2013.0,"v":3.2},{"c":"se","t":2013.3,"v":2.8},{"c":"se","t":2013.6,"v":4.1},{"c":"se","t":2013.9,"v":3.7},{"c":"se","t":2014.2,"v":5.0},{"c":"se","t":2014.5,"v":4.6},{"c":"se","t":2014.8,"v":6.2},{"c":"se","t":2015.0,"v":5.8},{"c":"se","t":2015.2,"v":7.4},{"c":"se","t":2015.4,"v":6.9},{"c":"se","t":2015.6,"v":8.5},{"c":"se","t":2015.8,"v":8.1},{"c":"se","t":2016.0,"v":9.8},{"c":"se","t":2016.15,"v":9.2},{"c":"se","t":2016.3,"v":10.9},{"c":"se","t":2016.45,"v":10.3},{"c":"se","t":2016.6,"v":11.8},{"c":"se","t":2016.75,"v":11.1},{"c":"se","t":2016.9,"v":12.6},{"c":"se","t":2017.0,"v":14.5},{"c":"se","t":2017.05,"v":12.3},{"c":"se","t":2017.2,"v":13.4},{"c":"se","t":2017.35,"v":12.8},{"c":"se","t":2017.5,"v":14.1},{"c":"se","t":2017.65,"v":13.5},{"c":"se","t":2017.8,"v":14.9},{"c":"se","t":2017.95,"v":14.2},{"c":"se","t":2018.01,"v":17.9},{"c":"se","t":2018.04,"v":14.5},{"c":"se","t":2018.2,"v":15.3},{"c":"se","t":2018.35,"v":14.8},{"c":"se","t":2018.45,"v":15.6},
{"c":"pt","t":2012.09,"v":0.4},{"c":"pt","t":2013.0,"v":0.8},{"c":"pt","t":2013.5,"v":1.6},{"c":"pt","t":2014.0,"v":2.9},{"c":"pt","t":2014.2,"v":3.6},{"c":"pt","t":2014.4,"v":3.2},{"c":"pt","t":2014.6,"v":4.7},{"c":"pt","t":2014.8,"v":4.3},{"c":"pt","t":2015.0,"v":5.9},{"c":"pt","t":2015.2,"v":5.4},{"c":"pt","t":2015.4,"v":6.8},{"c":"pt","t":2015.6,"v":6.3},{"c":"pt","t":2015.8,"v":7.9},{"c":"pt","t":2016.0,"v":8.6},{"c":"pt","t":2016.15,"v":8.1},{"c":"pt","t":2016.3,"v":9.7},{"c":"pt","t":2016.45,"v":9.2},{"c":"pt","t":2016.6,"v":10.8},{"c":"pt","t":2016.75,"v":12.1},{"c":"pt","t":2016.9,"v":11.4},{"c":"pt","t":2017.0,"v":13.2},{"c":"pt","t":2017.15,"v":12.6},{"c":"pt","t":2017.3,"v":14.0},{"c":"pt","t":2017.45,"v":13.5},{"c":"pt","t":2017.6,"v":15.2},{"c":"pt","t":2017.75,"v":14.7},{"c":"pt","t":2017.9,"v":16.0},{"c":"pt","t":2018.0,"v":16.4},{"c":"pt","t":2018.01,"v":19.8},{"c":"pt","t":2018.04,"v":16.2},{"c":"pt","t":2018.2,"v":17.1},{"c":"pt","t":2018.35,"v":16.6},{"c":"pt","t":2018.45,"v":17.4},
{"c":"lv","t":2012.09,"v":0.2},{"c":"lv","t":2014.0,"v":0.6},{"c":"lv","t":2014.5,"v":1.5},{"c":"lv","t":2015.0,"v":2.6},{"c":"lv","t":2015.3,"v":3.8},{"c":"lv","t":2015.6,"v":4.9},{"c":"lv","t":2015.9,"v":6.4},{"c":"lv","t":2016.1,"v":7.1},{"c":"lv","t":2016.25,"v":6.6},{"c":"lv","t":2016.4,"v":8.3},{"c":"lv","t":2016.55,"v":7.8},{"c":"lv","t":2016.7,"v":9.6},{"c":"lv","t":2016.85,"v":9.0},{"c":"lv","t":2017.0,"v":10.7},{"c":"lv","t":2017.15,"v":10.2},{"c":"lv","t":2017.3,"v":11.9},{"c":"lv","t":2017.45,"v":11.3},{"c":"lv","t":2017.6,"v":12.7},{"c":"lv","t":2017.75,"v":12.1},{"c":"lv","t":2017.9,"v":13.4},{"c":"lv","t":2018.05,"v":12.9},{"c":"lv","t":2018.2,"v":13.8},{"c":"lv","t":2018.35,"v":13.3},{"c":"lv","t":2018.45,"v":14.2},
{"c":"re","t":2012.09,"v":0.6},{"c":"re","t":2012.6,"v":1.1},{"c":"re","t":2013.1,"v":1.9},{"c":"re","t":2013.4,"v":1.6},{"c":"re","t":2013.7,"v":2.9},{"c":"re","t":2014.0,"v":3.4},{"c":"re","t":2014.3,"v":3.0},{"c":"re","t":2014.6,"v":4.2},{"c":"re","t":2014.9,"v":5.1},{"c":"re","t":2015.1,"v":4.6},{"c":"re","t":2015.35,"v":5.9},{"c":"re","t":2015.6,"v":5.4},{"c":"re","t":2015.85,"v":6.8},{"c":"re","t":2016.05,"v":7.5},{"c":"re","t":2016.25,"v":7.0},{"c":"re","t":2016.45,"v":8.6},{"c":"re","t":2016.65,"v":8.1},{"c":"re","t":2016.85,"v":9.5},{"c":"re","t":2017.05,"v":10.4},{"c":"re","t":2017.25,"v":9.8},{"c":"re","t":2017.45,"v":11.3},{"c":"re","t":2017.65,"v":10.8},{"c":"re","t":2017.85,"v":12.0},{"c":"re","t":2018.0,"v":12.6},{"c":"re","t":2018.2,"v":12.1},{"c":"re","t":2018.45,"v":12.9},
{"c":"vn","t":2012.09,"v":0.1},{"c":"vn","t":2015.0,"v":0.3},{"c":"vn","t":2015.5,"v":0.8},{"c":"vn","t":2016.0,"v":1.6},{"c":"vn","t":2016.2,"v":2.8},{"c":"vn","t":2016.4,"v":3.6},{"c":"vn","t":2016.6,"v":5.4},{"c":"vn","t":2016.8,"v":6.9},{"c":"vn","t":2017.0,"v":8.1},{"c":"vn","t":2017.1,"v":7.6},{"c":"vn","t":2017.25,"v":9.3},{"c":"vn","t":2017.4,"v":10.8},{"c":"vn","t":2017.55,"v":10.2},{"c":"vn","t":2017.7,"v":12.1},{"c":"vn","t":2017.85,"v":12.8},{"c":"vn","t":2018.0,"v":14.0},{"c":"vn","t":2018.15,"v":13.4},{"c":"vn","t":2018.3,"v":14.7},{"c":"vn","t":2018.45,"v":15.1},
{"c":"gf","t":2012.09,"v":1.2},{"c":"gf","t":2012.4,"v":1.6},{"c":"gf","t":2012.7,"v":1.4},{"c":"gf","t":2013.0,"v":2.0},{"c":"gf","t":2013.3,"v":2.5},{"c":"gf","t":2013.5,"v":2.2},{"c":"gf","t":2013.8,"v":3.1},{"c":"gf","t":2014.0,"v":3.0},{"c":"gf","t":2014.15,"v":4.0},{"c":"gf","t":2014.3,"v":3.6},{"c":"gf","t":2014.5,"v":4.6},{"c":"gf","t":2014.7,"v":4.3},{"c":"gf","t":2014.9,"v":5.2},{"c":"gf","t":2015.1,"v":5.0},{"c":"gf","t":2015.3,"v":5.9},{"c":"gf","t":2015.5,"v":5.6},{"c":"gf","t":2015.7,"v":6.5},{"c":"gf","t":2015.9,"v":6.1},{"c":"gf","t":2016.1,"v":7.2},{"c":"gf","t":2016.3,"v":6.8},{"c":"gf","t":2016.5,"v":7.7},{"c":"gf","t":2016.7,"v":7.4},{"c":"gf","t":2016.9,"v":8.4},{"c":"gf","t":2017.1,"v":8.0},{"c":"gf","t":2017.3,"v":8.9},{"c":"gf","t":2017.5,"v":8.6},{"c":"gf","t":2017.7,"v":9.4},{"c":"gf","t":2017.9,"v":9.1},{"c":"gf","t":2018.1,"v":9.9},{"c":"gf","t":2018.3,"v":9.6},{"c":"gf","t":2018.45,"v":10.2}
 ]},
  "mark":{"type":"line","strokeWidth":1.5,"clip":true},
  "encoding":{
   "x":{"field":"t","type":"quantitative","scale":{"domain":[2012,2018.447],"nice":false,"zero":false},"axis":null},
   "y":{"field":"v","type":"quantitative","scale":{"domain":[-8.07,60.61],"nice":false,"zero":false},"axis":null},
   "color":{"field":"c","type":"nominal","legend":null,"scale":{"domain":["be","gr","de","us","in","uy","ch","my","lu","br","jp","fr","ee","fi","ax","ec","gb","ca","no","au","tw","nl","pr","hu","ro","cz","sa","si","mx","pl","gt","lk","mo","sg","ie","se","pt","lv","re","vn","gf"],"range":["#3366cc","#dc3912","#ff9900","#109618","#990099","#0099c6","#dd4477","#66aa00","#b82e2e","#316395","#994499","#22aa99","#aaaa11","#6633cc","#e67300","#8b0707","#651067","#329262","#5574a6","#3b3eac","#b77322","#16d620","#b91383","#f4359e","#9c5935","#a9c413","#2a778d","#668d1c","#bea413","#0c5922","#8a9a40","#f0a030","#7a3fb0","#c26a15","#2f8f5f","#d04c8c","#3f7fbf","#7b3294","#c1272d","#45a56a","#a0522d"]}}}},
 {"data":{"values":[{"s":"0","v":0},{"s":"10","v":10},{"s":"20","v":20},{"s":"30","v":30},{"s":"40","v":40},{"s":"50","v":50}]},
  "mark":{"type":"text","font":"Liberation Sans","fontSize":25,"color":"#555555","align":"right","baseline":"middle","dy":-19},
  "encoding":{"x":{"datum":2018.428,"type":"quantitative","scale":{"domain":[2012,2018.447],"nice":false,"zero":false},"axis":null},"y":{"field":"v","type":"quantitative","scale":{"domain":[-8.07,60.61],"nice":false,"zero":false},"axis":null},"text":{"field":"s"}}},
 {"data":{"values":[{"s":"2012","t":2012.5},{"s":"2013","t":2013.5},{"s":"2014","t":2014.5},{"s":"2015","t":2015.5},{"s":"2016","t":2016.5},{"s":"2017","t":2017.5}]},
  "mark":{"type":"text","font":"Liberation Sans","fontSize":18,"color":"#555555","align":"center","baseline":"middle"},
  "encoding":{"x":{"field":"t","type":"quantitative","scale":{"domain":[2012,2018.447],"nice":false,"zero":false},"axis":null},"y":{"datum":-1.56,"type":"quantitative","scale":{"domain":[-8.07,60.61],"nice":false,"zero":false},"axis":null},"text":{"field":"s"}}},
 {"data":{"values":[{"b":"1h","t1":2012.377,"t2":2012.635,"tc":2012.506},{"b":"1d","t1":2012.695,"t2":2012.976,"tc":2012.835},{"b":"5d","t1":2013.022,"t2":2013.316,"tc":2013.169},{"b":"1w","t1":2013.367,"t2":2013.675,"tc":2013.521},{"b":"1m","t1":2013.726,"t2":2014.016,"tc":2013.871},{"b":"3m","t1":2014.066,"t2":2014.393,"tc":2014.23},{"b":"6m","t1":2014.448,"t2":2014.757,"tc":2014.603},{"b":"1y","t1":2014.812,"t2":2015.088,"tc":2014.95},{"b":"max","t1":2015.139,"t2":2015.488,"tc":2015.314}]},
  "layer":[
   {"mark":{"type":"rect","fill":"#f8f8f8","stroke":"#d6d6d6","strokeWidth":1.5,"cornerRadius":5},
    "encoding":{"x":{"field":"t1","type":"quantitative","scale":{"domain":[2012,2018.447],"nice":false,"zero":false},"axis":null},"x2":{"field":"t2"},"y":{"datum":57.76,"type":"quantitative","scale":{"domain":[-8.07,60.61],"nice":false,"zero":false},"axis":null},"y2":{"datum":59.66}}},
   {"mark":{"type":"text","font":"Liberation Sans","fontSize":15,"color":"#333333","baseline":"middle","align":"center"},
    "encoding":{"x":{"field":"tc","type":"quantitative","scale":{"domain":[2012,2018.447],"nice":false,"zero":false},"axis":null},"y":{"datum":58.71,"type":"quantitative","scale":{"domain":[-8.07,60.61],"nice":false,"zero":false},"axis":null},"text":{"field":"b"}}}
  ]},
 {"data":{"values":[{"s":"Zoom:","t":2012.202,"v":58.71}]},
  "mark":{"type":"text","font":"Liberation Serif","fontSize":19,"color":"#333333","baseline":"middle","align":"center"},
  "encoding":{"x":{"field":"t","type":"quantitative","scale":{"domain":[2012,2018.447],"nice":false,"zero":false},"axis":null},"y":{"field":"v","type":"quantitative","scale":{"domain":[-8.07,60.61],"nice":false,"zero":false},"axis":null},"text":{"field":"s"}}},
 {"data":{"values":[{"c":"be","s":"BE","tc":2015.686,"tl":2015.755},{"c":"gr","s":"GR","tc":2015.971,"tl":2016.041},{"c":"de","s":"DE","tc":2016.257,"tl":2016.33},{"c":"us","s":"US","tc":2016.542,"tl":2016.62},{"c":"in","s":"IN","tc":2016.832,"tl":2016.906},{"c":"uy","s":"UY","tc":2017.113,"tl":2017.177},{"c":"ch","s":"CH","tc":2017.389,"tl":2017.463},{"c":"my","s":"MY","tc":2017.688,"tl":2017.753},{"c":"lu","s":"LU","tc":2017.987,"tl":2018.052},{"c":"br","s":"BR","tc":2018.273,"tl":2018.332}]},
  "layer":[
   {"mark":{"type":"point","shape":"circle","size":200,"filled":true,"fill":"#fafafa","stroke":"#cfcfcf","strokeWidth":2},
    "encoding":{"x":{"field":"tc","type":"quantitative","scale":{"domain":[2012,2018.447],"nice":false,"zero":false},"axis":null},"y":{"datum":58.78,"type":"quantitative","scale":{"domain":[-8.07,60.61],"nice":false,"zero":false},"axis":null}}},
   {"mark":{"type":"text","font":"Liberation Serif","fontSize":19,"baseline":"middle","align":"left","opacity":0.85},
    "encoding":{"x":{"field":"tl","type":"quantitative","scale":{"domain":[2012,2018.447],"nice":false,"zero":false},"axis":null},"y":{"datum":58.78,"type":"quantitative","scale":{"domain":[-8.07,60.61],"nice":false,"zero":false},"axis":null},"text":{"field":"s"},"color":{"field":"c","type":"nominal","legend":null}}}
  ]},
 {"data":{"values":[{"s":"ke.org/ipv6status/compare.php?metric=p&","t":2011.94,"v":53.83},{"s":"le,us,in,uy,ch,my,lu,br,jp,fr,ee,fi,ax,ec,gb,ca,","t":2011.94,"v":49.9},{"s":"e,no,au,tw,nl,pr,hu,ro,cz,sa,si,mx,pl,gt,lk,mo","t":2011.94,"v":45.97},{"s":",sg","t":2011.94,"v":42.03}]},
  "mark":{"type":"text","font":"Liberation Sans","fontSize":47.5,"color":"#f39200","baseline":"alphabetic","align":"left"},
  "encoding":{"x":{"field":"t","type":"quantitative","scale":{"domain":[2012,2018.447],"nice":false,"zero":false},"axis":null},"y":{"field":"v","type":"quantitative","scale":{"domain":[-8.07,60.61],"nice":false,"zero":false},"axis":null},"text":{"field":"s"}}},
 {"data":{"values":[{"t":2011.94,"t2":2016.036,"v":53.49},{"t":2011.94,"t2":2016.151,"v":49.56},{"t":2011.94,"t2":2016.151,"v":45.63},{"t":2011.94,"t2":2012.216,"v":41.69}]},
  "mark":{"type":"rule","color":"#f39200","strokeWidth":3},
  "encoding":{"x":{"field":"t","type":"quantitative","scale":{"domain":[2012,2018.447],"nice":false,"zero":false},"axis":null},"x2":{"field":"t2"},"y":{"field":"v","type":"quantitative","scale":{"domain":[-8.07,60.61],"nice":false,"zero":false},"axis":null}}},
 {"data":{"values":[{"s":"fic from 47 countries for which","t":2011.94,"v":34.37},{"s":"east 5%","t":2011.94,"v":30.44}]},
  "mark":{"type":"text","font":"Liberation Sans","fontSize":47,"color":"#000000","baseline":"alphabetic","align":"left"},
  "encoding":{"x":{"field":"t","type":"quantitative","scale":{"domain":[2012,2018.447],"nice":false,"zero":false},"axis":null},"y":{"field":"v","type":"quantitative","scale":{"domain":[-8.07,60.61],"nice":false,"zero":false},"axis":null},"text":{"field":"s"}}},
 {"data":{"values":[{"t":2017.63,"t2":2018.6,"v":47.8}]},
  "mark":{"type":"rule","color":"#1a6ec8","strokeWidth":8},
  "encoding":{"x":{"field":"t","type":"quantitative","scale":{"domain":[2012,2018.447],"nice":false,"zero":false},"axis":null},"x2":{"field":"t2"},"y":{"field":"v","type":"quantitative","scale":{"domain":[-8.07,60.61],"nice":false,"zero":false},"axis":null}}},
 {"data":{"values":[{"t":2017.601,"v":47.8,"sz":576},{"t":2018.415,"v":3.8,"sz":784}]},
  "mark":{"type":"point","shape":"M -1 0 L 1 -1 L 1 1 Z","filled":true,"fill":"#1a6ec8","strokeWidth":0,"opacity":1},
  "encoding":{"x":{"field":"t","type":"quantitative","scale":{"domain":[2012,2018.447],"nice":false,"zero":false},"axis":null},"y":{"field":"v","type":"quantitative","scale":{"domain":[-8.07,60.61],"nice":false,"zero":false},"axis":null},"size":{"field":"sz","type":"quantitative","scale":null,"legend":null}}}
]},
{"data":{"values":[{"t":2012.106,"n":5.7},{"t":2012.15,"n":6.8},{"t":2012.189,"n":6.4},{"t":2012.25,"n":8.2},{"t":2012.313,"n":10},{"t":2012.354,"n":5.7},{"t":2012.41,"n":8.6},{"t":2012.479,"n":9.3},{"t":2012.56,"n":8.0},{"t":2012.644,"n":7.9},{"t":2012.7,"n":10.5},{"t":2012.769,"n":11.4},{"t":2012.874,"n":9.3},{"t":2012.92,"n":10.7},{"t":2012.957,"n":10},{"t":2012.99,"n":7.5},{"t":2013.012,"n":4.3},{"t":2013.068,"n":24.3},{"t":2013.312,"n":25.7},{"t":2013.371,"n":31.4},{"t":2013.601,"n":32.9},{"t":2013.75,"n":32.0},{"t":2013.85,"n":32.9},{"t":2013.974,"n":35},{"t":2014.057,"n":38.6},{"t":2014.14,"n":42.1},{"t":2014.3,"n":43.0},{"t":2014.43,"n":43.6},{"t":2014.637,"n":47.1},{"t":2014.844,"n":46.4},{"t":2014.991,"n":48.6},{"t":2015.465,"n":48.6},{"t":2015.985,"n":49.3},{"t":2016.92,"n":50},{"t":2018.447,"n":50}]},
 "layer":[
  {"mark":{"type":"area","color":"#e7eaf6"},
   "encoding":{"x":{"field":"t","type":"quantitative","scale":{"domain":[2012,2018.447],"nice":false,"zero":false},"axis":null},"y":{"field":"n","type":"quantitative","scale":{"domain":[0,723.6],"nice":false,"zero":false},"axis":null}}},
  {"data":{"values":[{"t":2013,"n":0,"n2":54.3},{"t":2014,"n":0,"n2":54.3},{"t":2015,"n":0,"n2":54.3},{"t":2016,"n":0,"n2":54.3},{"t":2017,"n":0,"n2":54.3},{"t":2018,"n":0,"n2":54.3}]},
   "mark":{"type":"rule","color":"#cdcdcd","strokeWidth":1.5},
   "encoding":{"x":{"field":"t","type":"quantitative","scale":{"domain":[2012,2018.447],"nice":false,"zero":false},"axis":null},"y":{"field":"n","type":"quantitative","scale":{"domain":[0,723.6],"nice":false,"zero":false},"axis":null},"y2":{"field":"n2"}}},
  {"data":{"values":[{"t":2012,"t2":2018.5,"n":54.3}]},
   "mark":{"type":"rule","color":"#bdbdbd","strokeWidth":2},
   "encoding":{"x":{"field":"t","type":"quantitative","scale":{"domain":[2012,2018.447],"nice":false,"zero":false},"axis":null},"x2":{"field":"t2"},"y":{"field":"n","type":"quantitative","scale":{"domain":[0,723.6],"nice":false,"zero":false},"axis":null}}},
  {"mark":{"type":"line","color":"#5573c8","strokeWidth":1.8},
   "encoding":{"x":{"field":"t","type":"quantitative","scale":{"domain":[2012,2018.447],"nice":false,"zero":false},"axis":null},"y":{"field":"n","type":"quantitative","scale":{"domain":[0,723.6],"nice":false,"zero":false},"axis":null}}},
  {"data":{"values":[{"s":"2012","t":2012.62},{"s":"2013","t":2013.62},{"s":"2014","t":2014.62},{"s":"2015","t":2015.62},{"s":"2016","t":2016.62},{"s":"2017","t":2017.62}]},
   "mark":{"type":"text","font":"Liberation Sans","fontSize":18,"color":"#555555","baseline":"middle","align":"center"},
   "encoding":{"x":{"field":"t","type":"quantitative","scale":{"domain":[2012,2018.447],"nice":false,"zero":false},"axis":null},"y":{"datum":7.14,"type":"quantitative","scale":{"domain":[0,723.6],"nice":false,"zero":false},"axis":null},"text":{"field":"s"}}},
  {"data":{"values":[{"t":2012.101,"n":0,"n2":54.3},{"t":2018.452,"n":0,"n2":54.3}]},
   "mark":{"type":"rule","color":"#666666","strokeWidth":1.5},
   "encoding":{"x":{"field":"t","type":"quantitative","scale":{"domain":[2012,2018.447],"nice":false,"zero":false},"axis":null},"y":{"field":"n","type":"quantitative","scale":{"domain":[0,723.6],"nice":false,"zero":false},"axis":null},"y2":{"field":"n2"}}},
  {"data":{"values":[{"t":2012.055,"t2":2012.147,"n":13.6,"n2":37.9},{"t":2018.392,"t2":2018.49,"n":13.6,"n2":37.9}]},
   "mark":{"type":"rect","fill":"#ffffff","stroke":"#444444","strokeWidth":1.5,"cornerRadius":9},
   "encoding":{"x":{"field":"t","type":"quantitative","scale":{"domain":[2012,2018.447],"nice":false,"zero":false},"axis":null},"x2":{"field":"t2"},"y":{"field":"n","type":"quantitative","scale":{"domain":[0,723.6],"nice":false,"zero":false},"axis":null},"y2":{"field":"n2"}}},
  {"data":{"values":[{"t":2012.092,"n":20,"n2":31},{"t":2012.11,"n":20,"n2":31}]},
   "mark":{"type":"rule","color":"#444444","strokeWidth":1.5},
   "encoding":{"x":{"field":"t","type":"quantitative","scale":{"domain":[2012,2018.447],"nice":false,"zero":false},"axis":null},"y":{"field":"n","type":"quantitative","scale":{"domain":[0,723.6],"nice":false,"zero":false},"axis":null},"y2":{"field":"n2"}}}
 ]}
]
}
